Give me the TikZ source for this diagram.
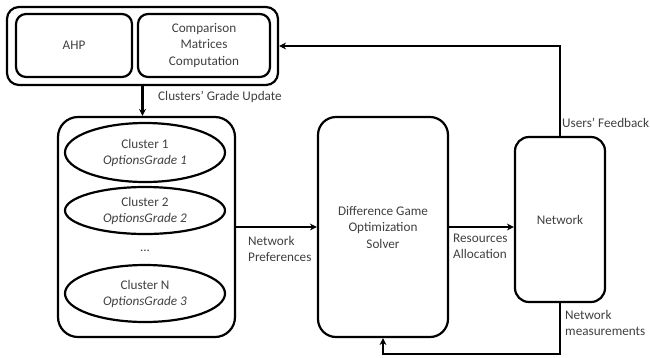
\documentclass[tikz,border=0pt]{standalone}
\usepackage{fontspec}
\setmainfont{Carlito}
\usetikzlibrary{arrows.meta,shapes.geometric}
\begin{document}
\begin{tikzpicture}[x=1pt,y=-1pt,
  box/.style={draw=black,line width=2.2pt,rounded corners=#1,inner sep=0pt,align=center,text=black!75,font=\fontsize{13.2}{16.5}\selectfont},
  ell/.style={draw=black,line width=2.2pt,ellipse,inner sep=0pt,align=center,text=black!75,font=\fontsize{13.2}{16}\selectfont},
  lbl/.style={anchor=west,align=left,inner sep=0pt,text=black!75,font=\fontsize{13.2}{16}\selectfont},
  conn/.style={line width=2.2pt,-{Stealth[length=7pt,width=7pt]}}]
\useasboundingbox (0,0) rectangle (650,357);
\node[box=12,minimum width=271,minimum height=78] (outer) at (142.5,46) {};
\node[box=10,minimum width=116,minimum height=63] (ahp) at (74,45.5) {AHP};
\node[box=10,minimum width=132,minimum height=63] (comp) at (204,45.5) {Comparison\\Matrices\\Computation};
\node[box=20,minimum width=177,minimum height=220] (clus) at (146.5,227) {};
\node[ell,minimum width=160,minimum height=59] (c1) at (145,152.5) {Cluster 1\\\textit{OptionsGrade 1}};
\node[ell,minimum width=160,minimum height=47] (c2) at (145,210.5) {Cluster 2\\\textit{OptionsGrade 2}};
\node[inner sep=0pt,text=black!75,font=\fontsize{13.2}{16}\selectfont] (dots) at (145,251) {...};
\node[ell,minimum width=160,minimum height=57] (cn) at (145,293.5) {Cluster N\\\textit{OptionsGrade 3}};
\node[box=18,minimum width=130,minimum height=220] (solver) at (383,227) {Difference Game\\Optimization\\Solver};
\node[box=14,minimum width=90,minimum height=165] (net) at (560,219.5) {Network};
\coordinate (mb) at (560,354);
\draw[conn] (outer.south) -- (outer.south |- clus.north);
\draw[conn] (clus.east) -- (solver.west);
\draw[conn] (solver.east) -- (solver.east -| net.west);
\draw[conn] (net.north) |- (outer.east);
\draw[conn] (net.south) -- (mb) -| (solver.south);
\node[lbl] (l1) at (158,97) {Clusters' Grade Update};
\node[lbl] (l2) at (248,249) {Network\\Preferences};
\node[lbl] (l3) at (453,246.5) {Resources\\Allocation};
\node[lbl] (l4) at (562,123) {Users' Feedback};
\node[lbl] (l5) at (565,322.5) {Network\\measurements};
\end{tikzpicture}
\end{document}
